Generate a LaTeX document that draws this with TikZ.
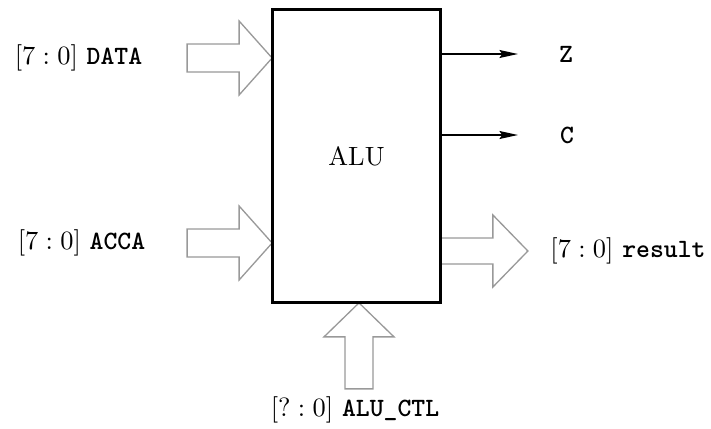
\documentclass[tikz,border=0pt]{standalone}
\usetikzlibrary{arrows.meta,calc}
\newcommand{\sigtt}[1]{\texttt{\bfseries #1}}
\begin{document}
\begin{tikzpicture}[x=0.0133cm,y=-0.0133cm,
  fat/.style={draw=black!40,line width=0.5pt,fill=white},
  sig/.style={line width=0.6pt,-{Stealth[length=7pt,width=3pt,inset=1pt]}},
  lbl/.style={inner sep=0pt}]
\useasboundingbox (0,0) rectangle (711,429);
\node[draw,line width=0.7pt,minimum width=2.221cm,minimum height=3.884cm,inner sep=0pt] (alu) at (356.5,156) {ALU};
% input fat arrows
\coordinate (dtip) at (alu.west |- 0,58);
\coordinate (atip) at (alu.west |- 0,243);
\coordinate (rbase) at (alu.east |- 0,251);
\coordinate (ctip) at (alu.south -| 359,0);
\draw[fat] (dtip) -- ++(-33,-37) -- ++(0,23) -- ++(-52,0) -- ++(0,28) -- ++(52,0) -- ++(0,23) -- cycle;
\draw[fat] (atip) -- ++(-33,-37) -- ++(0,23) -- ++(-52,0) -- ++(0,28) -- ++(52,0) -- ++(0,23) -- cycle;
\draw[fat] (rbase) ++(0,-13) -- ++(52,0) -- ++(0,-23) -- ++(35,36) -- ++(-35,36) -- ++(0,-23) -- ++(-52,0);
\draw[fat] (ctip) -- ++(35,34) -- ++(-21,0) -- ++(0,52) -- ++(-28,0) -- ++(0,-52) -- ++(-21,0) -- cycle;
\draw[line width=0.7pt] (alu.north west) rectangle (alu.south east);
% labels
\node[lbl] (ldata) at (78.5,58) {$[7:0]$ \sigtt{DATA}};
\node[lbl] (lacca) at (81.5,243) {$[7:0]$ \sigtt{ACCA}};
\node[lbl] (lres) at (628,251) {$[7:0]$ \sigtt{result}};
\node[lbl] (lctl) at (355,410) {$[?:0]$ \sigtt{ALU\_CTL}};
\node[lbl] (lz) at (566,54) {\sigtt{Z}};
\node[lbl] (lc) at (567,135) {\sigtt{C}};
\coordinate (zs) at (alu.east |- lz);
\coordinate (cs) at (alu.east |- lc);
\draw[sig] (zs) -- (518,54);
\draw[sig] (cs) -- (518,135);
\end{tikzpicture}
\end{document}
